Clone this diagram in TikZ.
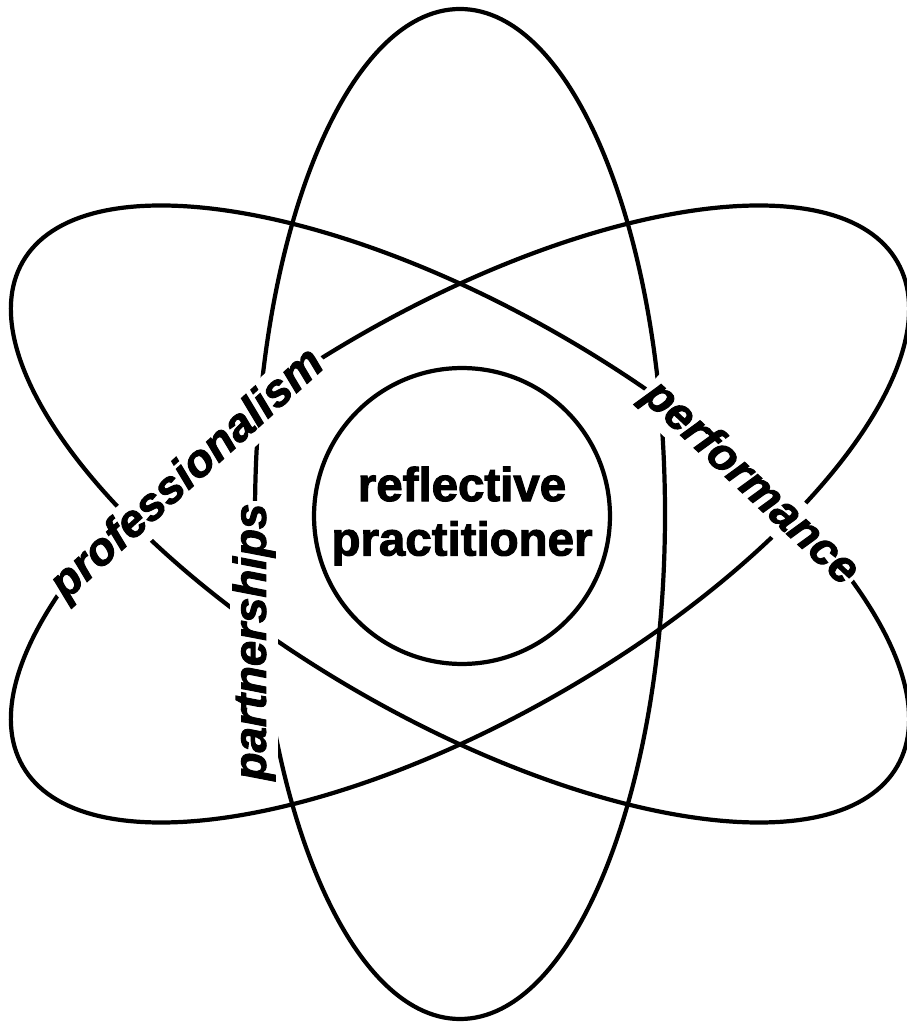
\documentclass[tikz,border=0pt]{standalone}
\usepackage{fontspec}
\setmainfont{Liberation Sans}
\newfontfamily\heavyfont{Liberation Sans}[FakeBold=2.2]
\usepackage{tikz}
\tikzset{
  orbit/.style={draw=black,line width=2.4pt},
  core/.style={circle,draw=black,line width=2.4pt,fill=white,minimum size=5.92cm,
               inner sep=0pt,align=center,font=\fontsize{27}{31}\selectfont\heavyfont\bfseries},
  tag/.style={fill=white,inner sep=1.5pt,font=\fontsize{26}{30}\selectfont\heavyfont\bfseries\itshape},
}

\begin{document}
\begin{tikzpicture}[scale=0.02]
  \useasboundingbox (-460,-509) rectangle (447,514);
  % three orbits
  \draw[orbit,rotate=90]  (0,0) ellipse [x radius=505, y radius=205];
  \draw[orbit,rotate=30]  (0,0) ellipse [x radius=505, y radius=205];
  \draw[orbit,rotate=-30] (0,0) ellipse [x radius=505, y radius=205];
  % nucleus
  \node[core] (core) at (2,-2) {reflective\\practitioner};
  % orbit labels
  \node[tag,rotate=42]  (prof)    at (-272,39)  {professionalism};
  \node[tag,rotate=90]  (partner) at (-206,-128) {partnerships};
  \node[tag,rotate=-43] (perf)    at (290,30)   {performance};
\end{tikzpicture}
\end{document}
